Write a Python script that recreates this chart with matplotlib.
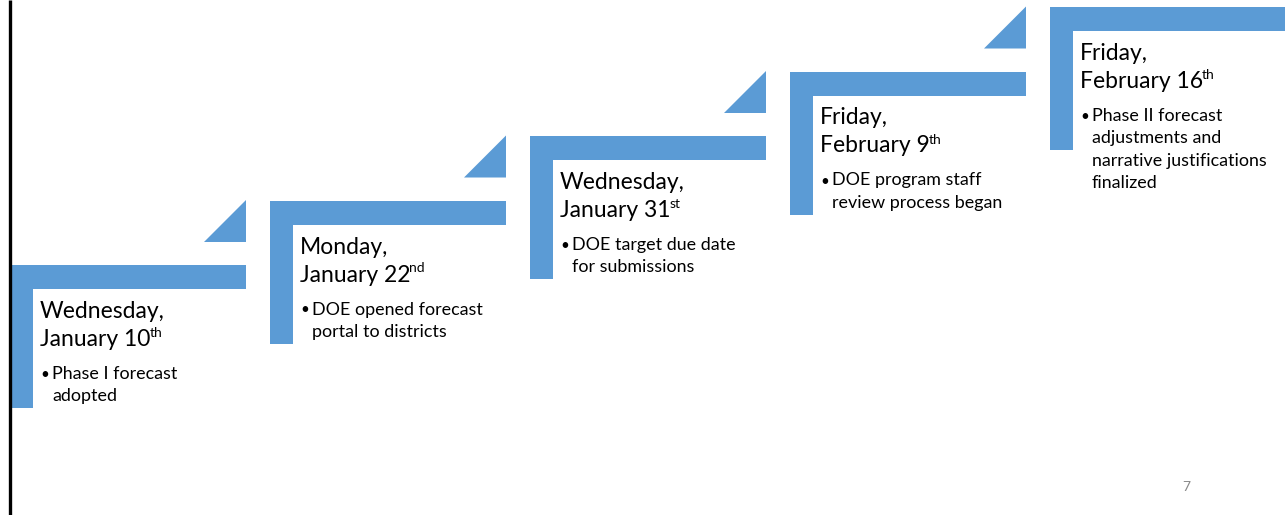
"""Step-up timeline: forecast milestones, January-February."""

import matplotlib.pyplot as plt
from matplotlib.patches import Polygon

days = ["Wednesday,", "Monday,", "Wednesday,", "Friday,", "Friday,"]
dates = ["January 10", "January 22", "January 31", "February 9", "February 16"]
suffixes = ["th", "nd", "st", "th", "th"]
bullets = [
    ["Phase I forecast", "adopted"],
    ["DOE opened forecast", "portal to districts"],
    ["DOE target due date", "for submissions"],
    ["DOE program staff", "review process began"],
    ["Phase II forecast", "adjustments and", "narrative justifications", "finalized"],
]
page_number = "7"

blue = "#5B9BD5"
plt.rcParams["font.family"] = ["Lato", "DejaVu Sans"]

W, H = 1285, 515
fig = plt.figure(figsize=(W / 100, H / 100), dpi=100)
ax = fig.add_axes([0, 0, 1, 1])
ax.set_xlim(0, W)
ax.set_ylim(H, 0)
ax.axis("off")

# left edge of the slide
ax.plot([9.5, 9.5], [0, H], color="black", lw=2.4, solid_capstyle="butt")

x_start, y_start = 10, 265
dx, dy = 260, -64.5
bar_w, bar_t, post_w, post_h = 236, 24, 23, 143

renderer = fig.canvas.get_renderer()
for i, (day, date, suf, lines) in enumerate(zip(days, dates, suffixes, bullets)):
    x0 = x_start + dx * i
    y0 = y_start + dy * i
    # the L shape of the step
    ax.add_patch(Polygon([(x0, y0), (x0 + bar_w, y0), (x0 + bar_w, y0 + bar_t),
                          (x0 + post_w, y0 + bar_t), (x0 + post_w, y0 + post_h),
                          (x0, y0 + post_h)], closed=True, color=blue, lw=0))
    # small triangle pointing to the next step
    if i < len(days) - 1:
        ax.add_patch(Polygon([(x0 + bar_w - 42, y0 - 23), (x0 + bar_w, y0 - 65),
                              (x0 + bar_w, y0 - 23)], closed=True, color=blue, lw=0))

    tx = x0 + 30
    ax.text(tx, y0 + 53, day, fontsize=16.5, va="baseline", ha="left")
    t = ax.text(tx, y0 + 81, date, fontsize=16.5, va="baseline", ha="left")
    bb = t.get_window_extent(renderer)
    sx = ax.transData.inverted().transform((bb.x1, 0))[0]
    ax.text(sx - 1, y0 + 72, suf, fontsize=10, va="baseline", ha="left")

    for j, line in enumerate(lines):
        yb = y0 + 114 + 22.5 * j
        if j == 0:
            ax.text(tx, yb, "\u2022", fontsize=11, va="baseline", ha="left")
        ax.text(tx + 12, yb, line, fontsize=12.9, va="baseline", ha="left")

ax.text(1186, 491, page_number, fontsize=10, color="#898989", va="baseline", ha="center")

fig.savefig("out.png", dpi=100)
plt.close(fig)
